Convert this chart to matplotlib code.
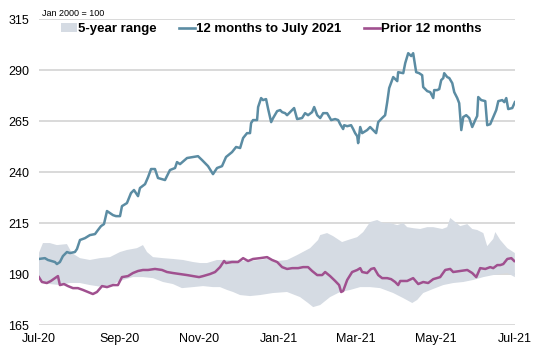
import numpy as np
import pandas as pd
import matplotlib
matplotlib.use("Agg")
import matplotlib.pyplot as plt
from matplotlib.patches import Patch
from matplotlib.lines import Line2D

plt.rcParams['font.family'] = ['Liberation Sans', 'DejaVu Sans']

start = pd.Timestamp('2020-07-01')

# 12 months to July 2021 (days since 1 Jul 2020, index value)
days_cur = [0, 4.6, 6.9, 12.3, 13.8, 16.1, 18.4, 21.5, 23.8, 27.6, 29.2, 31.5, 35.3, 39.1, 43.0,
            45.3, 47.6, 49.9, 52.2, 54.5, 56.8, 59.1, 62.2, 63.7, 67.5, 70.6, 72.9, 76.0, 77.5,
            81.4, 83.7, 86.0, 89.0, 91.3, 96.7, 100.5, 104.4, 105.9, 108.2, 113.6, 118.2, 122.0,
            125.1, 127.4, 129.7, 133.5, 136.6, 140.4, 143.5, 148.1, 151.2, 154.3, 156.6, 159.6,
            161.9, 162.7, 164.2, 167.3, 168.1, 170.4, 171.9, 174.2, 175.8, 178.1, 179.6, 182.7,
            185.0, 186.5, 188.8, 190.3, 192.6, 195.7, 198.0, 201.8, 204.1, 206.4, 209.5, 211.1,
            213.4, 215.7, 218.0, 221.0, 224.1, 227.2, 229.5, 231.0, 233.3, 234.1, 236.4, 239.4,
            241.0, 242.5, 244.1, 244.8, 246.4, 247.9, 251.7, 254.0, 256.3, 258.6, 260.2, 263.2,
            265.5, 267.1, 268.6, 271.7, 274.8, 275.5, 279.4, 280.9, 283.2, 285.5, 287.0, 289.3,
            291.6, 293.9, 294.7, 297.8, 300.1, 302.4, 303.1, 305.4, 307.0, 308.5, 310.1, 310.8,
            313.1, 314.7, 317.0, 318.5, 320.8, 322.3, 323.9, 325.4, 327.7, 330.0, 332.3, 334.6,
            336.1, 336.9, 339.2, 342.3, 343.8, 346.1, 348.4, 350.7, 352.3, 355.3, 356.9, 358.4,
            359.9, 363.0, 365.0]
vals_cur = [197.4, 197.8, 196.9, 195.9, 194.9, 195.9, 198.8, 200.8, 200.3, 200.8, 202.3, 206.7,
            207.6, 209.1, 209.6, 211.6, 213.5, 214.5, 220.9, 219.9, 218.9, 218.4, 218.4, 223.3,
            224.8, 229.7, 231.2, 228.2, 232.2, 234.1, 237.5, 241.5, 241.5, 237.1, 236.1, 241.0,
            242.0, 244.9, 243.9, 246.9, 247.4, 247.8, 245.9, 244.4, 242.9, 239.0, 242.0, 242.9,
            247.4, 249.8, 252.3, 251.8, 256.7, 259.1, 259.1, 264.0, 265.5, 265.5, 271.9, 276.3,
            275.3, 275.8, 270.9, 264.5, 266.5, 269.9, 270.4, 269.4, 268.9, 267.9, 269.4, 271.4,
            266.0, 266.5, 268.9, 267.9, 269.4, 271.9, 267.9, 266.5, 268.9, 268.9, 265.5, 266.0,
            265.5, 263.5, 261.1, 263.0, 262.5, 263.0, 261.1, 259.1, 257.6, 254.2, 262.1, 259.1,
            260.6, 262.1, 260.6, 259.1, 264.5, 266.5, 267.9, 274.3, 281.2, 286.6, 284.6, 289.0,
            288.5, 293.4, 298.3, 296.9, 298.3, 289.0, 288.5, 287.5, 281.7, 279.7, 279.2, 276.3,
            280.2, 280.2, 280.7, 285.1, 286.1, 288.5, 286.6, 286.1, 283.6, 279.2, 276.3, 273.8,
            260.6, 267.0, 267.9, 266.5, 262.1, 265.5, 267.5, 276.8, 275.3, 274.8, 263.0, 263.5,
            267.0, 270.4, 274.8, 275.3, 274.3, 276.3, 270.9, 271.4, 274.3]

# prior 12 months
days_prior = [0, 2.3, 6.1, 9.2, 12.3, 14.6, 16.1, 19.2, 22.3, 26.1, 29.9, 33.8, 37.6, 41.4, 44.5,
              48.4, 52.2, 56.8, 60.6, 63.7, 68.3, 72.1, 76.0, 79.8, 83.7, 89.0, 94.4, 98.2, 102.8,
              108.2, 113.6, 118.2, 122.8, 125.9, 131.2, 135.1, 138.9, 142.0, 143.5, 148.1, 152.7,
              156.6, 160.4, 164.2, 169.6, 175.0, 178.8, 182.7, 186.5, 190.3, 194.2, 198.8, 202.6,
              206.4, 209.5, 213.4, 217.2, 219.5, 223.3, 227.2, 230.2, 231.8, 233.3, 236.4, 240.2,
              244.1, 246.4, 247.9, 251.7, 254.8, 257.1, 260.2, 263.2, 267.1, 270.1, 273.2, 275.5,
              277.1, 279.4, 282.4, 287.0, 290.9, 294.7, 298.5, 302.4, 307.7, 311.6, 315.4, 317.7,
              323.1, 328.5, 332.3, 335.4, 338.4, 342.3, 346.1, 348.4, 351.5, 353.8, 356.1, 359.2,
              362.3, 364.5]
vals_prior = [188.5, 186.1, 185.6, 186.6, 188.0, 189.0, 184.6, 185.1, 184.1, 183.1, 183.1, 182.2,
              181.2, 180.2, 181.2, 184.1, 183.6, 184.6, 184.6, 188.5, 189.0, 190.5, 191.5, 192.0,
              192.0, 192.5, 192.0, 191.0, 190.5, 190.0, 189.5, 189.0, 188.5, 189.0, 190.0, 191.0,
              193.4, 196.4, 195.4, 195.9, 195.9, 197.8, 196.4, 197.4, 197.8, 198.3, 196.9, 195.9,
              193.4, 192.5, 192.9, 192.9, 193.4, 193.4, 191.5, 189.5, 189.5, 191.0, 189.0, 186.6,
              184.6, 181.2, 181.7, 187.1, 191.0, 192.0, 192.9, 191.0, 190.5, 192.5, 192.9, 189.5,
              188.0, 188.0, 187.5, 186.1, 184.6, 186.6, 186.6, 186.6, 188.0, 185.1, 186.1, 185.6,
              187.5, 188.5, 192.0, 192.5, 191.0, 191.5, 192.0, 190.5, 188.5, 192.9, 192.5, 193.4,
              192.9, 194.4, 194.4, 194.9, 197.4, 197.8, 196.4]

# 5-year range, upper and lower edges
days_hi = [0, 3.1, 8.4, 13.8, 21.5, 25.3, 31.5, 39.1, 46.8, 54.5, 62.2, 67.5, 75.2, 79.8, 82.9,
           87.5, 95.2, 102.8, 110.5, 118.2, 123.6, 128.9, 136.6, 141.2, 148.9, 159.6, 169.6, 176.5,
           182.7, 190.3, 198.0, 208.0, 214.1, 215.7, 221.0, 225.6, 232.5, 237.1, 244.1, 248.7,
           254.0, 259.4, 264.0, 269.4, 274.8, 279.4, 282.4, 287.0, 292.4, 297.8, 302.4, 309.3,
           313.1, 315.4, 319.3, 323.1, 328.5, 332.3, 336.1, 340.8, 343.8, 348.4, 350.0, 353.8,
           359.2, 365.0]
vals_hi = [200.3, 205.2, 205.2, 204.2, 204.7, 200.3, 197.8, 196.9, 197.8, 198.3, 200.8, 201.8,
           202.7, 204.2, 200.8, 198.3, 197.8, 197.4, 196.9, 195.9, 195.4, 195.4, 196.9, 196.9,
           196.9, 196.4, 196.9, 197.8, 196.4, 196.9, 199.3, 202.7, 206.7, 209.1, 210.1, 208.6,
           205.7, 206.7, 208.1, 210.6, 215.5, 216.5, 215.0, 215.0, 214.0, 215.0, 213.0, 212.5,
           212.1, 213.0, 213.0, 212.1, 213.0, 217.5, 215.5, 213.5, 214.5, 212.1, 211.6, 210.1,
           203.7, 207.2, 210.6, 206.7, 202.7, 200.3]
days_lo = [0, 3.1, 8.4, 16.1, 23.8, 31.5, 39.1, 49.1, 56.8, 64.5, 72.1, 79.8, 87.5, 95.2, 102.8,
           109.7, 118.2, 125.9, 133.5, 138.9, 144.3, 148.9, 154.3, 161.9, 169.6, 179.6, 190.3,
           200.3, 206.4, 210.3, 215.7, 223.3, 231.0, 238.7, 246.4, 254.0, 261.7, 271.7, 279.4,
           286.3, 290.1, 294.7, 302.4, 310.1, 317.7, 325.4, 333.1, 340.8, 348.4, 359.2, 365.0]
vals_lo = [188.0, 186.1, 185.1, 184.6, 185.6, 185.6, 184.6, 183.6, 185.1, 187.1, 188.5, 188.5,
           188.0, 186.1, 185.1, 183.1, 183.6, 184.1, 183.6, 183.6, 182.2, 181.2, 179.7, 179.2,
           179.7, 180.7, 181.2, 178.7, 175.8, 173.8, 174.8, 178.7, 181.2, 182.2, 183.6, 183.6,
           183.1, 180.7, 178.2, 175.8, 177.3, 180.7, 182.7, 184.6, 185.6, 186.1, 187.1, 188.5,
           189.5, 190.5, 188.5]

tick_dates = ['2020-07-01', '2020-09-01', '2020-11-01', '2021-01-01', '2021-03-01', '2021-05-01', '2021-07-01']
tick_labels = ['Jul-20', 'Sep-20', 'Nov-20', 'Jan-21', 'Mar-21', 'May-21', 'Jul-21']
yticks = [165, 190, 215, 240, 265, 290, 315]

c_cur = '#5b8ca3'
c_prior = '#a0508f'
c_band = '#d5dbe3'
c_grid = '#cfcfcf'


def to_dates(d):
    return start + pd.to_timedelta(np.array(d), unit='D')


fig = plt.figure(figsize=(5.33, 3.48), dpi=100)
ax = fig.add_axes([0.073, 0.066, 0.893, 0.879])

# band drawn as a polygon: upper edge forward, lower edge backward
bx = np.concatenate([to_dates(days_hi), to_dates(days_lo)[::-1]])
by = np.concatenate([vals_hi, vals_lo[::-1]])
ax.fill(bx, by, color=c_band, lw=0, zorder=2)

ax.plot(to_dates(days_cur), vals_cur, color=c_cur, lw=1.8, zorder=4)
ax.plot(to_dates(days_prior), vals_prior, color=c_prior, lw=1.8, zorder=4)

ax.set_ylim(165, 315)
ax.set_yticks(yticks)
ax.set_xlim(pd.Timestamp(tick_dates[0]), pd.Timestamp(tick_dates[-1]))
ax.set_xticks(pd.to_datetime(tick_dates))
ax.set_xticklabels(tick_labels)
ax.grid(axis='y', color=c_grid, lw=1.1, zorder=1)
ax.set_axisbelow(True)
for s in ax.spines.values():
    s.set_visible(False)
ax.tick_params(axis='both', length=0, labelsize=9, colors='black')
ax.tick_params(axis='y', pad=7)
ax.tick_params(axis='x', pad=6)

fig.text(0.079, 0.962, 'Jan 2000 = 100', fontsize=6.5, va='center', ha='left')

handles = [Patch(facecolor=c_band, edgecolor='none'),
           Line2D([], [], color=c_cur, lw=1.9),
           Line2D([], [], color=c_prior, lw=1.9)]
labels = ['5-year range', '12 months to July 2021', 'Prior 12 months']
leg = ax.legend(handles, labels, ncol=3, loc='center', bbox_to_anchor=(0.488, 0.967),
                frameon=False, prop={'weight': 'bold', 'size': 9.5},
                handlelength=1.2, handleheight=0.6, handletextpad=0.1, columnspacing=1.7,
                borderaxespad=0)

fig.savefig('out.png', dpi=100)
